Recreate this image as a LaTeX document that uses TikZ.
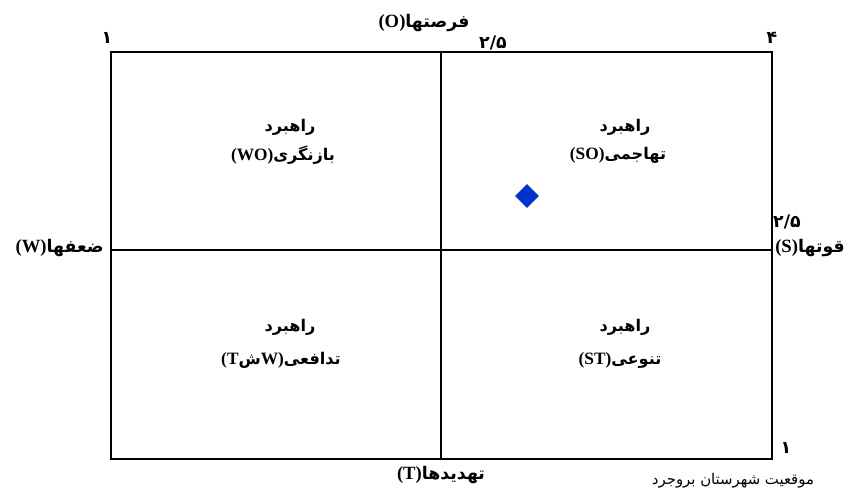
\documentclass[tikz,border=0pt]{standalone}
\usepackage{fontspec}
\setmainfont{Liberation Serif}
\newfontfamily\fa[Script=Arabic,Scale=0.93]{DejaVu Sans}
\TeXXeTstate=1
\usetikzlibrary{shapes.geometric}
\newcommand{\fatxt}[1]{{\fa\beginR #1\endR}}
\begin{document}
\begin{tikzpicture}[x=0.75pt, y=-0.75pt,
    lbl/.style={inner sep=0pt, font=\bfseries\fontsize{13}{15}\selectfont},
    num/.style={inner sep=0pt, font=\fa\bfseries\fontsize{14}{16}\selectfont},
    axis/.style={inner sep=0pt, font=\bfseries\fontsize{14}{16}\selectfont}]
  \useasboundingbox (0,0) rectangle (864,489);
  % matrix frame
  \coordinate (nw) at (111,52);
  \coordinate (se) at (772,459);
  \coordinate (top) at (441,52);
  \coordinate (bot) at (441,459);
  \coordinate (lft) at (111,250);
  \coordinate (rgt) at (772,250);
  \draw[line width=1.5pt] (nw) rectangle (se);
  \draw[line width=1pt] (top) -- (bot);
  \draw[line width=1pt] (lft) -- (rgt);
  % scale values
  \node[num] (n1) at (107,38) {۱};
  \node[num] (n25t) at (493,43) {۲/۵};
  \node[num] (n4) at (772,38) {۴};
  \node[num] (n25r) at (787,222) {۲/۵};
  \node[num] (n1r) at (786,448) {۱};
  % axis titles
  \node[axis] (opp) at (424,23) {(O)\fatxt{فرصتها}};
  \node[axis, anchor=east] (weak) at (104,248) {(W)\fatxt{ضعفها}};
  \node[axis, anchor=west] (str) at (775,248) {(S)\fatxt{قوتها}};
  \node[axis] (thr) at (441,475) {(T)\fatxt{تهدیدها}};
  % strategies
  \node[lbl] (wo1) at (290,127) {\fatxt{راهبرد}};
  \node[lbl] (wo2) at (283,155) {(WO)\fatxt{بازنگری}};
  \node[lbl] (so1) at (625,127) {\fatxt{راهبرد}};
  \node[lbl] (so2) at (618,155) {(SO)\fatxt{تهاجمی}};
  \node[lbl] (wt1) at (290,327) {\fatxt{راهبرد}};
  \node[lbl] (wt2) at (281,360) {(T\fatxt{ش}W)\fatxt{تدافعی}};
  \node[lbl] (st1) at (625,327) {\fatxt{راهبرد}};
  \node[lbl] (st2) at (620,360) {(ST)\fatxt{تنوعی}};
  % position of the county
  \node[diamond, fill={rgb,255:red,0;green,51;blue,204}, inner sep=0pt,
    minimum width=18pt, minimum height=18pt] (pos) at (527,196) {};
  \node[inner sep=0pt, anchor=south, font=\fa\fontsize{12}{14}\selectfont] (cap) at (733,488)
    {\fatxt{موقعیت شهرستان بروجرد}};
\end{tikzpicture}
\end{document}
